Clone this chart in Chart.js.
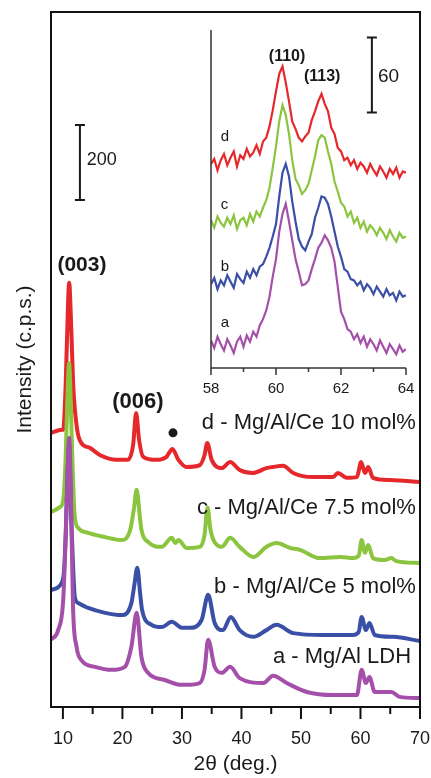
<!DOCTYPE html>
<html>
<head>
<meta charset="utf-8">
<script src="https://cdn.jsdelivr.net/npm/chart.js@4.4.0/dist/chart.umd.min.js"></script>
<style>
  html, body { margin: 0; padding: 0; background: #fff; }
  #wrap { position: relative; width: 431px; height: 778px; }
  #wrap canvas { position: absolute; left: 0; top: 0; }
</style>
</head>
<body>
<div id="wrap">
  <canvas id="mainChart" width="431" height="778"></canvas>
  <canvas id="insetChart" width="431" height="778"></canvas>
</div>
<script>
/* XRD patterns of Mg/Al and Mg/Al/Ce LDH - main plot + inset */

// main plot: 2theta (deg) and intensity (c.p.s., stacked with offsets)
const dX = [8.0, 9.8, 10.05, 10.45, 10.7, 11.05, 11.45, 11.75, 12.4, 13.1, 14.5, 16.2, 19.0, 20.9, 21.8, 22.3, 22.8, 23.5, 25.7, 27.4, 28.4, 29.4, 30.8, 33.0, 33.8, 34.25, 35.0, 36.7, 38.1, 39.7, 41.9, 44.2, 45.3, 47.0, 48.7, 52.0, 55.4, 56.2, 57.7, 59.4, 60.1, 60.75, 61.3, 62.1, 65.0, 70.0];
const dY = [731, 739, 739, 853, 987, 1131, 987, 853, 739, 704, 691, 672, 659, 659, 699, 784, 712, 667, 659, 667, 688, 659, 640, 645, 672, 704, 659, 637, 653, 632, 624, 637, 640, 643, 624, 613, 613, 624, 611, 613, 653, 624, 640, 611, 605, 600];

const cX = [8.0, 9.5, 10.05, 10.45, 10.75, 11.05, 11.4, 11.7, 12.0, 12.6, 14.25, 17.1, 19.9, 21.3, 21.9, 22.4, 22.9, 23.2, 24.3, 26.6, 28.3, 28.9, 29.4, 30.8, 33.0, 33.8, 34.3, 34.8, 35.3, 36.7, 38.1, 39.7, 42.0, 44.2, 45.9, 48.2, 49.8, 53.2, 56.6, 58.8, 59.7, 60.2, 60.75, 61.3, 62.1, 64.0, 65.2, 66.0, 70.0];
const cY = [520, 533, 552, 659, 819, 917, 765, 605, 507, 477, 464, 453, 445, 472, 525, 579, 512, 472, 440, 427, 451, 437, 445, 424, 427, 459, 531, 472, 445, 427, 451, 427, 400, 427, 437, 424, 419, 397, 400, 397, 403, 445, 411, 432, 397, 392, 397, 389, 384];

const bX = [8.0, 9.8, 10.2, 10.5, 10.8, 11.05, 11.4, 11.7, 12.0, 12.6, 14.25, 17.1, 19.9, 21.5, 22.0, 22.5, 23.0, 23.3, 24.9, 26.6, 28.3, 30.0, 31.3, 33.3, 34.4, 35.5, 36.9, 38.2, 39.7, 42.0, 44.2, 45.9, 48.7, 53.7, 58.7, 59.7, 60.2, 60.9, 61.5, 62.4, 65.5, 70.0];
const bY = [312, 331, 365, 472, 632, 699, 500, 380, 293, 277, 264, 251, 245, 277, 325, 371, 299, 259, 219, 213, 227, 211, 211, 232, 299, 224, 205, 240, 205, 187, 205, 219, 197, 192, 192, 200, 240, 205, 224, 192, 187, 176];

const aX = [8.0, 9.2, 10.05, 10.5, 10.8, 11.05, 11.4, 11.7, 12.3, 13.1, 15.4, 18.2, 20.4, 21.5, 22.4, 23.2, 24.3, 27.1, 30.0, 30.8, 33.0, 33.8, 34.4, 35.5, 36.7, 38.1, 39.7, 43.7, 45.3, 47.6, 51.0, 55.4, 59.4, 60.2, 60.9, 61.5, 62.4, 65.2, 66.6, 70.0];
const aY = [179, 205, 285, 472, 632, 717, 520, 267, 160, 125, 107, 99, 107, 160, 251, 133, 91, 72, 59, 59, 64, 99, 179, 107, 91, 107, 77, 64, 83, 64, 40, 32, 32, 99, 64, 80, 40, 40, 27, 24];

const mainTicks = [10, 15, 20, 25, 30, 35, 40, 45, 50, 55, 60, 65, 70];

// inset: 58-64 deg zoom, intensity offsets in inset units
const insetX = [58.0, 58.1, 58.2, 58.3, 58.4, 58.5, 58.6, 58.7, 58.8, 58.9, 59.0, 59.1, 59.2, 59.3, 59.4, 59.5, 59.6, 59.7, 59.8, 59.9, 60.0, 60.1, 60.2, 60.3, 60.4, 60.5, 60.6, 60.7, 60.8, 60.9, 61.0, 61.1, 61.2, 61.3, 61.4, 61.5, 61.6, 61.7, 61.8, 61.9, 62.0, 62.1, 62.2, 62.3, 62.4, 62.5, 62.6, 62.7, 62.8, 62.9, 63.0, 63.1, 63.2, 63.3, 63.4, 63.5, 63.6, 63.7, 63.8, 63.9, 64.0];
const insetD = [163, 167, 158, 166, 171, 162, 168, 173, 161, 170, 167, 175, 169, 172, 178, 171, 181, 184, 193, 206, 221, 235, 241, 228, 213, 197, 191, 184, 181, 185, 188, 198, 205, 213, 219, 211, 205, 192, 187, 176, 173, 166, 168, 162, 166, 159, 164, 161, 156, 163, 158, 154, 161, 157, 152, 159, 155, 160, 152, 157, 156];
const insetC = [118, 112, 121, 116, 113, 120, 115, 122, 111, 118, 120, 114, 123, 117, 125, 121, 128, 134, 144, 160, 177, 197, 210, 202, 187, 166, 151, 146, 139, 142, 147, 158, 169, 182, 186, 184, 173, 163, 149, 141, 132, 129, 121, 125, 116, 120, 112, 117, 109, 114, 111, 106, 112, 108, 103, 110, 105, 101, 108, 104, 105];
const insetB = [67, 72, 63, 70, 66, 74, 69, 64, 75, 71, 68, 77, 72, 79, 74, 81, 83, 89, 96, 105, 115, 137, 156, 163, 153, 133, 117, 103, 97, 94, 101, 107, 120, 128, 137, 136, 131, 121, 109, 97, 89, 79, 77, 71, 70, 66, 69, 62, 67, 64, 59, 65, 61, 57, 63, 58, 60, 54, 61, 57, 58];
const insetA = [22, 16, 25, 19, 14, 23, 18, 12, 21, 25, 17, 26, 21, 29, 25, 34, 39, 46, 57, 73, 87, 109, 123, 131, 117, 102, 87, 77, 66, 67, 70, 79, 87, 96, 100, 106, 102, 96, 85, 65, 45, 39, 31, 29, 23, 27, 20, 25, 17, 23, 19, 14, 22, 17, 12, 19, 15, 11, 18, 13, 15];

const insetTicks = [58, 59, 60, 61, 62, 63, 64];

const seriesColors = { a: '#a450aa', b: '#3a4fa6', c: '#8bc53f', d: '#e5282c' };
const FONT = 'Liberation Sans, Arial, sans-serif';
const INK = '#1a1a1a';

const toPts = (xs, ys) => xs.map((x, i) => ({ x: x, y: ys[i] }));

// annotations, placed in data units
const mainNotes = [
  { type: 'text', text: '(003)', x: 13.2, y: 1179, font: 'bold 21px ' + FONT, align: 'center' },
  { type: 'text', text: '(006)', x: 22.6, y: 813, font: 'bold 22px ' + FONT, align: 'center' },
  { type: 'dot', x: 28.5, y: 731, r: 4.5 },
  { type: 'bar', x: 12.86, y0: 1352, y1: 1552, cap: 5 },
  { type: 'text', text: '200', x: 14.0, y: 1457, font: '18px ' + FONT, align: 'left' },
  { type: 'text', text: 'd - Mg/Al/Ce 10 mol%', x: 69.3, y: 757, font: '22px ' + FONT, align: 'right' },
  { type: 'text', text: 'c - Mg/Al/Ce 7.5 mol%', x: 69.3, y: 531, font: '22px ' + FONT, align: 'right' },
  { type: 'text', text: 'b - Mg/Al/Ce 5 mol%', x: 69.3, y: 320, font: '22px ' + FONT, align: 'right' },
  { type: 'text', text: 'a - Mg/Al LDH', x: 68.5, y: 133, font: '22px ' + FONT, align: 'right' }
];
const insetNotes = [
  { type: 'text', text: '(110)', x: 60.34, y: 249, font: 'bold 16px ' + FONT, align: 'center' },
  { type: 'text', text: '(113)', x: 61.42, y: 233, font: 'bold 16px ' + FONT, align: 'center' },
  { type: 'bar', x: 62.95, y0: 204, y1: 264, cap: 5 },
  { type: 'text', text: '60', x: 63.14, y: 233, font: '19px ' + FONT, align: 'left' },
  { type: 'text', text: 'd', x: 58.3, y: 185, font: '15px ' + FONT, align: 'left' },
  { type: 'text', text: 'c', x: 58.3, y: 130, font: '15px ' + FONT, align: 'left' },
  { type: 'text', text: 'b', x: 58.3, y: 81, font: '15px ' + FONT, align: 'left' },
  { type: 'text', text: 'a', x: 58.3, y: 36, font: '15px ' + FONT, align: 'left' }
];

function drawNotes(ctx, xs, ys, notes) {
  notes.forEach(n => {
    ctx.fillStyle = INK;
    ctx.strokeStyle = INK;
    if (n.type === 'text') {
      ctx.font = n.font;
      ctx.textAlign = n.align;
      ctx.textBaseline = 'middle';
      ctx.fillText(n.text, xs.getPixelForValue(n.x), ys.getPixelForValue(n.y));
    } else if (n.type === 'dot') {
      ctx.beginPath();
      ctx.arc(xs.getPixelForValue(n.x), ys.getPixelForValue(n.y), n.r, 0, Math.PI * 2);
      ctx.fill();
    } else if (n.type === 'bar') {
      const px = xs.getPixelForValue(n.x);
      const p0 = ys.getPixelForValue(n.y0), p1 = ys.getPixelForValue(n.y1);
      ctx.lineWidth = 2;
      ctx.beginPath();
      ctx.moveTo(px, p0); ctx.lineTo(px, p1);
      ctx.moveTo(px - n.cap, p0); ctx.lineTo(px + n.cap, p0);
      ctx.moveTo(px - n.cap, p1); ctx.lineTo(px + n.cap, p1);
      ctx.stroke();
    }
  });
}

const mainDecor = {
  id: 'mainDecor',
  afterDraw(chart) {
    const { ctx, chartArea: a, scales: { x, y } } = chart;
    ctx.save();
    ctx.strokeStyle = '#111';
    ctx.lineWidth = 2;
    ctx.strokeRect(a.left, a.top, a.right - a.left, a.bottom - a.top);
    x.ticks.forEach(t => {
      const px = x.getPixelForValue(t.value);
      ctx.beginPath();
      ctx.moveTo(px, a.bottom);
      ctx.lineTo(px, a.bottom + (t.value % 10 === 0 ? 12 : 7));
      ctx.stroke();
    });
    drawNotes(ctx, x, y, mainNotes);
    ctx.restore();
  }
};

const insetDecor = {
  id: 'insetDecor',
  afterDraw(chart) {
    const { ctx, chartArea: a, scales: { x, y } } = chart;
    ctx.save();
    ctx.strokeStyle = '#333';
    ctx.lineWidth = 1.5;
    ctx.beginPath();
    ctx.moveTo(a.left, a.top);
    ctx.lineTo(a.left, a.bottom);
    ctx.lineTo(a.right, a.bottom);
    ctx.stroke();
    x.ticks.forEach(t => {
      const px = x.getPixelForValue(t.value);
      ctx.beginPath();
      ctx.moveTo(px, a.bottom);
      ctx.lineTo(px, a.bottom + (t.value % 2 === 0 ? 7 : 4));
      ctx.stroke();
    });
    drawNotes(ctx, x, y, insetNotes);
    ctx.restore();
  }
};

// fixed box sizes so the plot areas land where the figure has them
const fixX = h => s => { s.height = h; s.paddingLeft = 0; s.paddingRight = 0; };
const fixY = w => s => { s.width = w; s.paddingTop = 0; s.paddingBottom = 0; };

// 1. Main XRD chart
new Chart(document.getElementById('mainChart'), {
  type: 'line',
  data: {
    datasets: [
      { label: 'a', data: toPts(aX, aY), borderColor: seriesColors.a },
      { label: 'b', data: toPts(bX, bY), borderColor: seriesColors.b },
      { label: 'c', data: toPts(cX, cY), borderColor: seriesColors.c },
      { label: 'd', data: toPts(dX, dY), borderColor: seriesColors.d }
    ]
  },
  options: {
    responsive: false,
    animation: false,
    layout: { autoPadding: false, padding: { left: 0, right: 11, top: 12, bottom: 0 } },
    elements: {
      point: { radius: 0 },
      line: { borderWidth: 4, cubicInterpolationMode: 'monotone', fill: false }
    },
    plugins: { legend: { display: false }, tooltip: { enabled: false } },
    scales: {
      x: {
        type: 'linear', min: 8, max: 70,
        grid: { display: false, drawTicks: false },
        border: { display: false },
        ticks: {
          autoSkip: false, maxRotation: 0, padding: 21,
          color: INK, font: { family: FONT, size: 18 },
          callback: v => (v % 10 === 0 ? v : '')
        },
        afterBuildTicks: s => { s.ticks = mainTicks.map(v => ({ value: v })); },
        title: { display: true, text: '2θ (deg.)', color: INK, font: { family: FONT, size: 21 }, padding: { top: 0, bottom: 1 } },
        afterFit: fixX(71)
      },
      y: {
        type: 'linear', min: 0, max: 1853,
        grid: { display: false, drawTicks: false },
        border: { display: false },
        ticks: { display: false },
        title: { display: true, text: 'Intensity (c.p.s.)', color: INK, font: { family: FONT, size: 21 }, padding: { top: 13, bottom: 0 } },
        afterFit: fixY(51)
      }
    }
  },
  plugins: [mainDecor]
});

// 2. Inset (110)/(113) region
new Chart(document.getElementById('insetChart'), {
  type: 'line',
  data: {
    datasets: [
      { label: 'a', data: toPts(insetX, insetA), borderColor: seriesColors.a },
      { label: 'b', data: toPts(insetX, insetB), borderColor: seriesColors.b },
      { label: 'c', data: toPts(insetX, insetC), borderColor: seriesColors.c },
      { label: 'd', data: toPts(insetX, insetD), borderColor: seriesColors.d }
    ]
  },
  options: {
    responsive: false,
    animation: false,
    layout: { autoPadding: false, padding: { left: 211, right: 25, top: 30, bottom: 0 } },
    elements: {
      point: { radius: 0 },
      line: { borderWidth: 2.2, tension: 0, fill: false }
    },
    plugins: { legend: { display: false }, tooltip: { enabled: false } },
    scales: {
      x: {
        type: 'linear', min: 58, max: 64,
        grid: { display: false, drawTicks: false },
        border: { display: false },
        ticks: {
          autoSkip: false, maxRotation: 0, padding: 12,
          color: INK, font: { family: FONT, size: 15 },
          callback: v => (v % 2 === 0 ? v : '')
        },
        afterBuildTicks: s => { s.ticks = insetTicks.map(v => ({ value: v })); },
        afterFit: fixX(410)
      },
      y: {
        type: 'linear', min: 0, max: 270,
        grid: { display: false, drawTicks: false },
        border: { display: false },
        ticks: { display: false },
        afterFit: fixY(0)
      }
    }
  },
  plugins: [insetDecor]
});
</script>
</body>
</html>
